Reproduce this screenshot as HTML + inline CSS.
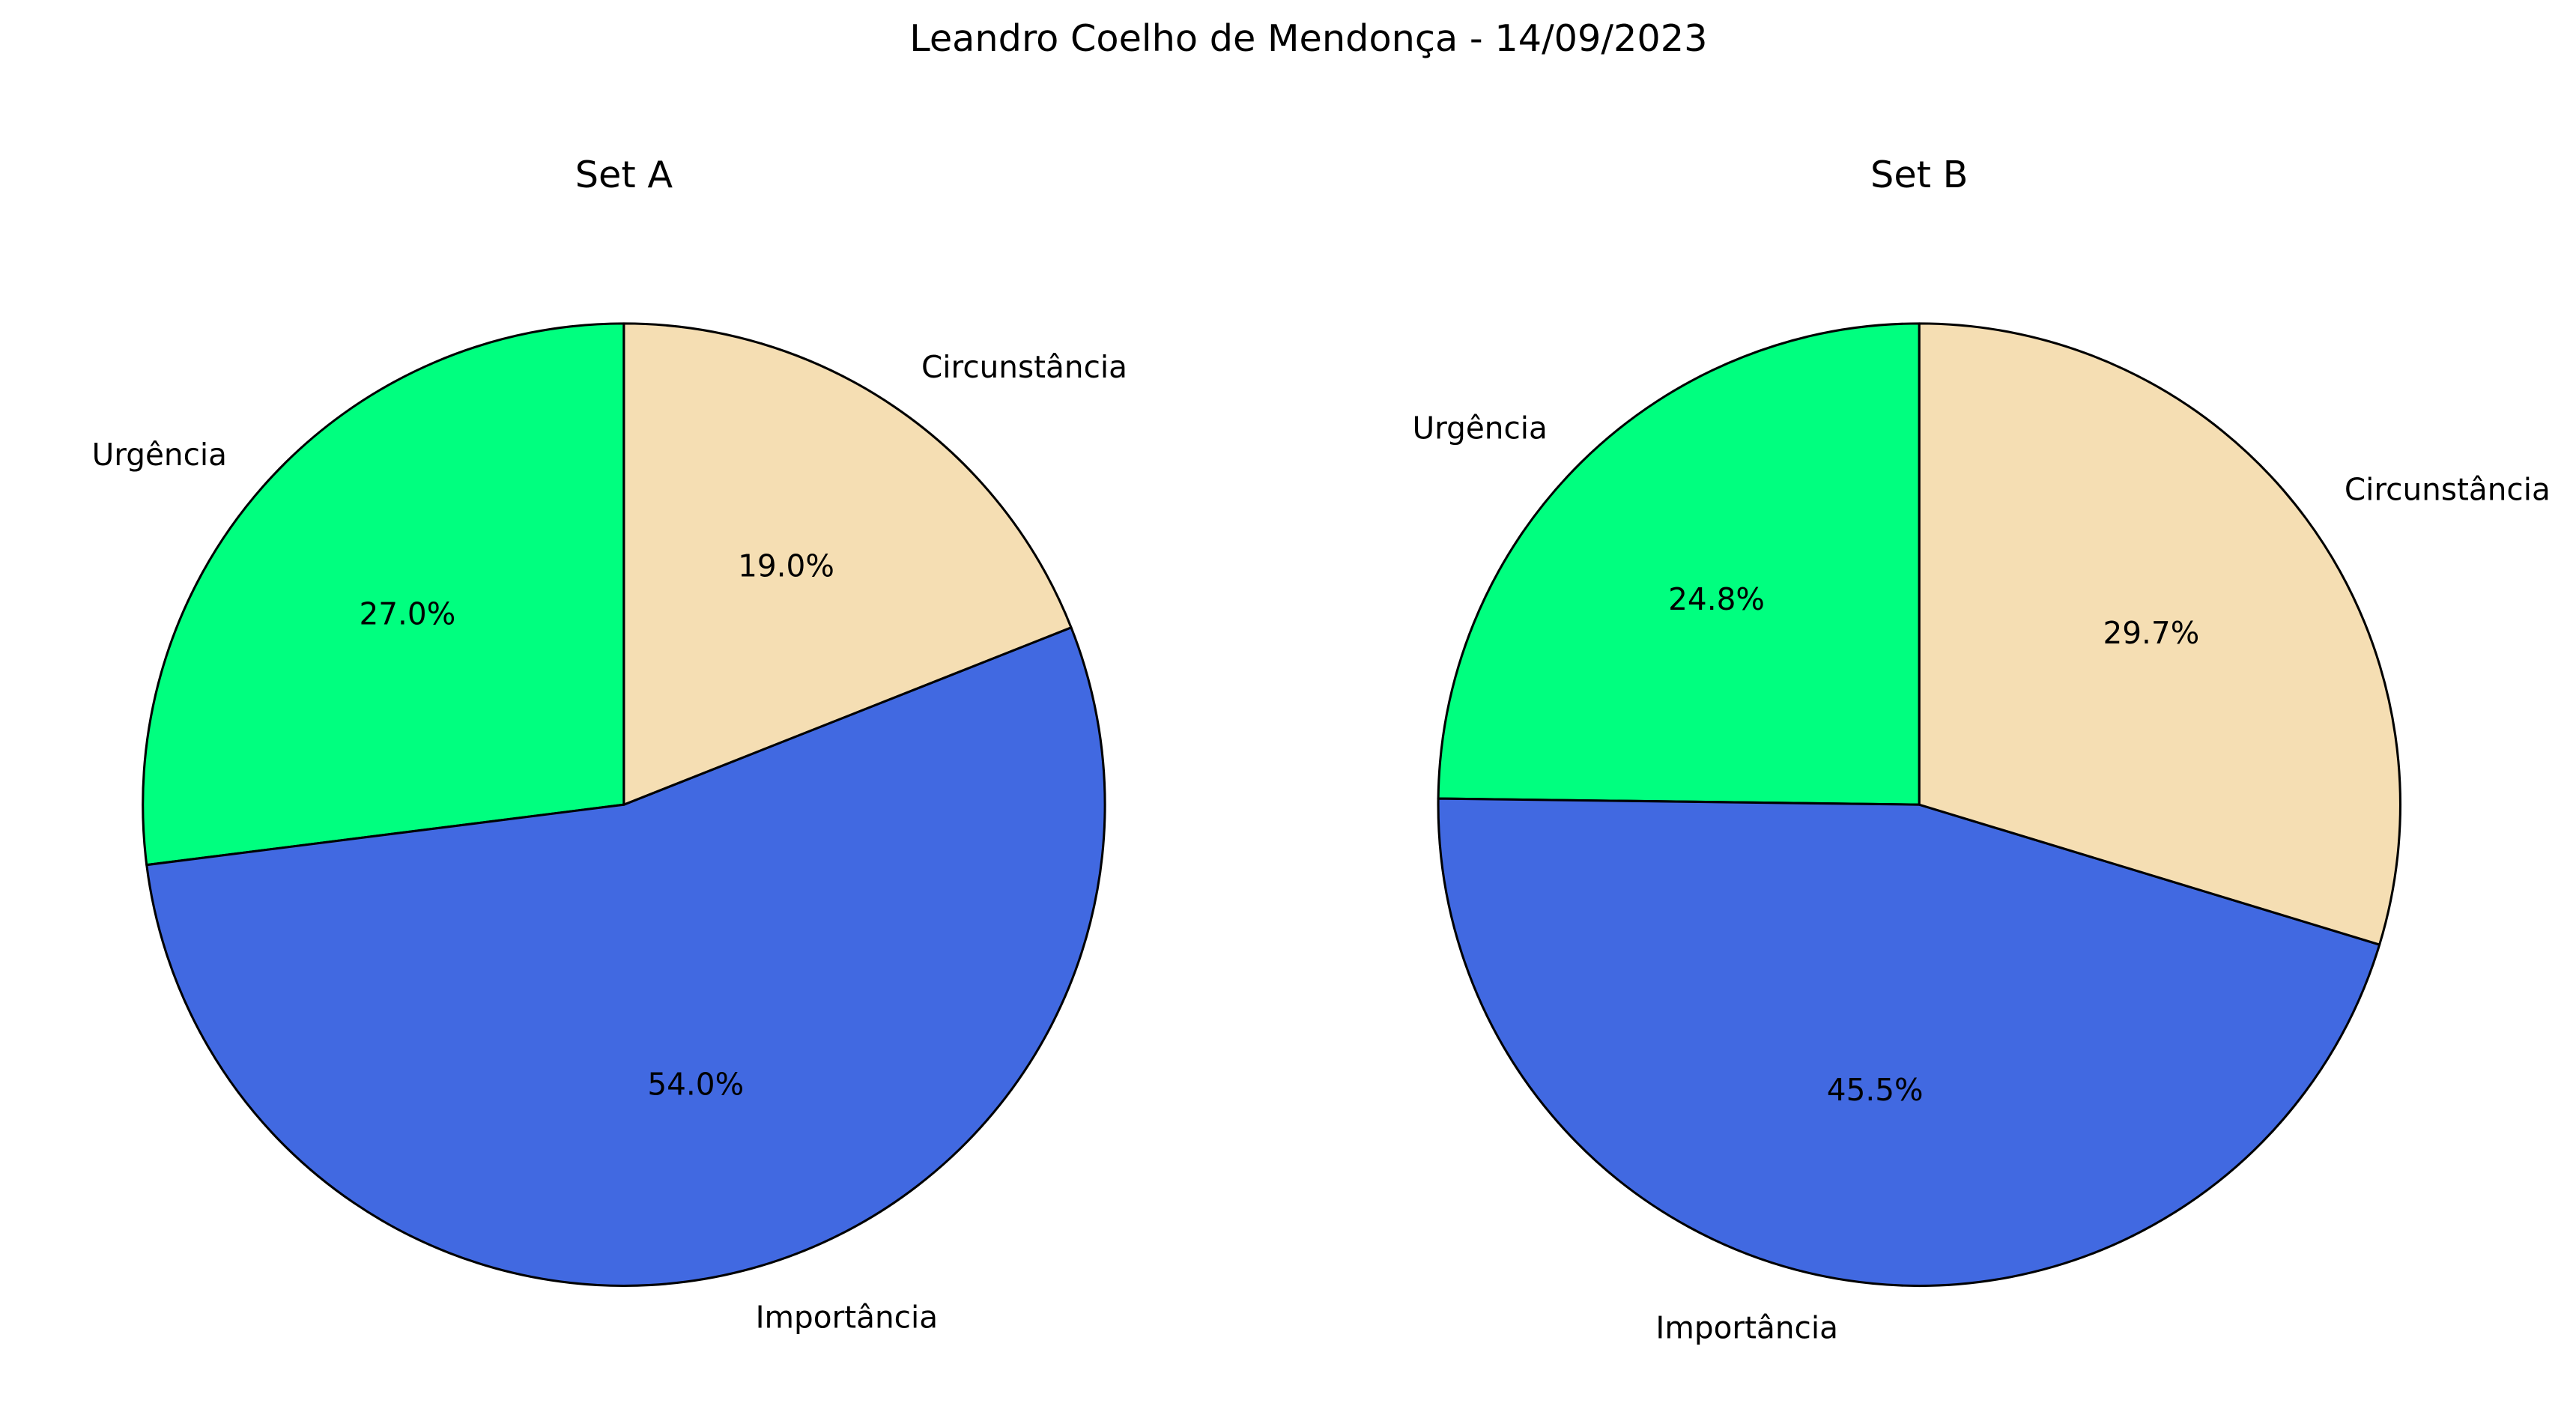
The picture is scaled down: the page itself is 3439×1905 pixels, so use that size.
<!DOCTYPE html>
<html><head><meta charset="utf-8"><style>
html,body{margin:0;padding:0;background:#fff;}
svg{display:block;}
text{font-family:"DejaVu Sans","Liberation Sans",sans-serif;fill:#000;}
</style></head><body>
<svg id="chart" width="3439" height="1905" viewBox="0 0 1569 869" preserveAspectRatio="none" xmlns="http://www.w3.org/2000/svg">
<rect width="1569" height="869" fill="#fff"/>
<text x="797" y="31" font-size="22.5" text-anchor="middle">Leandro Coelho de Mendonça - 14/09/2023</text>
<text x="380" y="114" font-size="22.5" text-anchor="middle">Set A</text>
<text x="1169" y="114" font-size="22.5" text-anchor="middle">Set B</text>
<g id="pieA"></g>
<g id="pieB"></g>
</svg>
<script>
const categories = ["Urgência", "Importância", "Circunstância"];
const valuesA = [27.0, 54.0, 19.0];
const valuesB = [24.8, 45.5, 29.7];
const colors = ["#00ff7f", "#4169e1", "#f5deb3"];
const NS = "http://www.w3.org/2000/svg";
function drawPie(gid, values, cx, cy, r, prefix) {
  const g = document.getElementById(gid);
  const total = values.reduce((a, b) => a + b, 0);
  let a0 = 90;
  values.forEach((v, i) => {
    const sweep = v / total * 360;
    const a1 = a0 + sweep;
    const rad = d => d * Math.PI / 180;
    const x0 = cx + r * Math.cos(rad(a0)), y0 = cy - r * Math.sin(rad(a0));
    const x1 = cx + r * Math.cos(rad(a1)), y1 = cy - r * Math.sin(rad(a1));
    const p = document.createElementNS(NS, "path");
    p.setAttribute("d", `M${cx},${cy} L${x0},${y0} A${r},${r} 0 ${sweep > 180 ? 1 : 0} 0 ${x1},${y1} Z`);
    p.setAttribute("fill", colors[i]);
    p.setAttribute("stroke", "#000");
    p.setAttribute("stroke-width", "1.4");
    p.setAttribute("stroke-linejoin", "round");
    
    
    g.appendChild(p);
    const mid = rad((a0 + a1) / 2);
    const lx = cx + 1.1 * r * Math.cos(mid), ly = cy - 1.1 * r * Math.sin(mid);
    const t = document.createElementNS(NS, "text");
    t.setAttribute("x", lx); t.setAttribute("y", ly + 6.5);
    t.setAttribute("font-size", "18.5");
    t.setAttribute("text-anchor", Math.cos(mid) > 0 ? "start" : "end");
    t.textContent = categories[i];
    
    
    g.appendChild(t);
    const px = cx + 0.6 * r * Math.cos(mid), py = cy - 0.6 * r * Math.sin(mid);
    const pt = document.createElementNS(NS, "text");
    pt.setAttribute("x", px); pt.setAttribute("y", py + 6.5);
    pt.setAttribute("font-size", "18.5");
    pt.setAttribute("text-anchor", "middle");
    pt.textContent = (v / total * 100).toFixed(1) + "%";
    
    
    g.appendChild(pt);
    a0 = a1;
  });
}
drawPie("pieA", valuesA, 380, 490, 293, "set-a");
drawPie("pieB", valuesB, 1169, 490, 293, "set-b");
</script>
</body></html>
